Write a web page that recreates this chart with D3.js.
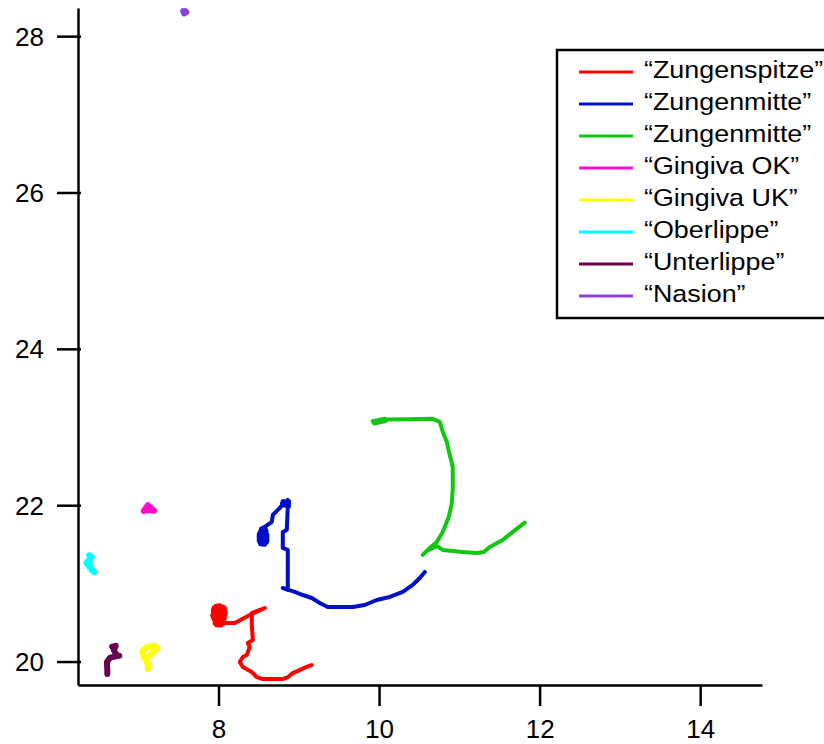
<!DOCTYPE html>
<html>
<head>
<meta charset="utf-8">
<script src="https://cdn.jsdelivr.net/npm/d3@7"></script>
<style>
  html, body { margin: 0; padding: 0; background: #fff; }
  svg { display: block; }
  text { font-family: "Liberation Sans", Arial, sans-serif; fill: #000; }
</style>
</head>
<body>
<svg id="chart" width="824" height="744"></svg>
<script>
// Articulator trajectories (x, y in cm)
const zungenspitze = [
  [9.16,19.955],[9.12,19.94],[9.06,19.915],[9.01,19.89],[8.925,19.853],[8.863,19.80],[8.80,19.776],[8.552,19.776],
  [8.477,19.80],[8.415,19.866],[8.303,19.93],[8.265,19.994],[8.303,20.058],[8.352,20.083],
  [8.39,20.186],[8.365,20.237],[8.428,20.275],[8.415,20.467],[8.415,20.62],[8.577,20.685],
  [8.39,20.595],[8.203,20.493],[8.079,20.493],
  [8.03,20.46],[7.97,20.465],[8.05,20.485],[7.95,20.49],[8.06,20.51],[7.95,20.515],
  [8.07,20.535],[7.94,20.54],[8.08,20.56],[7.93,20.565],[8.08,20.585],[7.92,20.59],
  [8.09,20.61],[7.93,20.615],[8.09,20.635],[7.93,20.64],[8.08,20.66],[7.93,20.665],
  [8.08,20.685],[7.94,20.69],[8.06,20.705],[7.96,20.71],[8.02,20.72]
];
const zungenmitte1 = [
  [8.58,21.495],[8.52,21.50],[8.60,21.52],[8.51,21.525],[8.61,21.545],[8.50,21.55],
  [8.61,21.57],[8.50,21.575],[8.61,21.595],[8.50,21.60],[8.61,21.62],[8.50,21.625],
  [8.60,21.645],[8.51,21.65],[8.60,21.67],[8.52,21.675],[8.59,21.695],[8.53,21.70],
  [8.577,21.722],[8.664,21.786],[8.677,21.876],[8.764,21.965],
  [8.79,22.0],[8.88,21.99],[8.79,22.025],[8.88,22.02],[8.80,22.05],[8.88,22.05],[8.863,22.068],
  [8.876,21.978],[8.863,21.978],[8.851,21.684],[8.801,21.658],[8.801,21.453],
  [8.863,21.428],[8.863,20.915],[8.801,20.941],[8.95,20.89],[9.05,20.851],[9.162,20.813],
  [9.262,20.749],[9.361,20.698],[9.511,20.698],[9.673,20.698],[9.822,20.723],[9.971,20.787],
  [10.133,20.826],[10.295,20.89],[10.42,20.98],[10.507,21.069],[10.57,21.146]
];
const zungenmitte2 = [
  [9.93,23.06],[10.06,23.09],[9.92,23.075],[10.07,23.105],[9.94,23.045],[10.08,23.075],
  [9.96,23.06],[10.05,23.09],
  [10.096,23.095],[10.345,23.1],
  [10.669,23.105],[10.756,23.067],[10.793,22.939],[10.843,22.811],[10.88,22.645],[10.918,22.491],
  [10.918,22.209],[10.905,22.017],[10.868,21.85],[10.793,21.658],[10.719,21.53],[10.631,21.453],
  [10.544,21.364],[10.594,21.415],[10.719,21.479],[10.793,21.428],[11.042,21.402],[11.217,21.389],
  [11.304,21.402],[11.379,21.466],[11.541,21.556],[11.666,21.658],[11.815,21.776]
];
const gingivaOK = [
  [7.07,21.925],[7.12,22.00],[7.2,21.93],[7.09,21.945],[7.16,21.96],[7.12,21.93]
];
const gingivaUK = [
  [7.24,20.16],[7.21,20.20],[7.12,20.19],[7.055,20.134],[7.065,20.07],[7.1,20.019],
  [7.12,19.95],[7.12,19.90],[7.13,19.95],[7.1,20.03],[7.19,20.12]
];
const oberlippe = [
  [6.39,21.36],[6.42,21.34],[6.355,21.261],[6.4,21.2],[6.455,21.14],[6.42,21.172],
  [6.39,21.274],[6.41,21.32]
];
const unterlippe = [
  [6.675,20.19],[6.72,20.20],[6.696,20.147],[6.735,20.07],[6.765,20.075],[6.65,20.05],
  [6.61,19.994],[6.615,19.891],[6.615,19.84]
];
const nasion = [
  [7.56,28.32],[7.6,28.305],[7.57,28.29],[7.59,28.32]
];

const seriesNames = ["\u201CZungenspitze\u201D", "\u201CZungenmitte\u201D", "\u201CZungenmitte\u201D",
  "\u201CGingiva OK\u201D", "\u201CGingiva UK\u201D", "\u201COberlippe\u201D", "\u201CUnterlippe\u201D", "\u201CNasion\u201D"];
const seriesData = [zungenspitze, zungenmitte1, zungenmitte2, gingivaOK, gingivaUK, oberlippe, unterlippe, nasion];
const seriesColors = ["#ff0000", "#0010c8", "#10c810", "#ff10c8", "#ffff00", "#00ffff", "#6a0050", "#9040e0"];
const seriesWidths = [4, 4, 4, 6, 6, 6, 6, 6];

const xTicks = [8, 10, 12, 14];
const yTicks = [20, 22, 24, 26, 28];

const svg = d3.select("#chart");

const x = d3.scaleLinear().domain([6.25, 14.77]).range([78, 762]);
const y = d3.scaleLinear().domain([19.70, 28.36]).range([685, 8]);

// Trajectories
const line = d3.line().x(d => x(d[0])).y(d => y(d[1]));
const traces = svg.append("g");
seriesData.forEach((s, i) => {
  traces.append("path")
    .attr("d", line(s))
    .attr("fill", "none")
    .attr("stroke", seriesColors[i])
    .attr("stroke-width", seriesWidths[i])
    .attr("stroke-linejoin", "round")
    .attr("stroke-linecap", "round");
});

// Axes
const xAxis = d3.axisBottom(x).tickValues(xTicks).tickSize(21).tickSizeOuter(0).tickFormat(d3.format("d"));
const yAxis = d3.axisLeft(y).tickValues(yTicks).tickSize(21).tickSizeOuter(0).tickFormat(d3.format("d"));

const gx = svg.append("g").attr("transform", "translate(0,685)").call(xAxis);
const gy = svg.append("g").attr("transform", "translate(78,0)").call(yAxis);

[gx, gy].forEach(g => {
  g.select(".domain").attr("stroke", "#000").attr("stroke-width", 2.5);
  g.selectAll(".tick line").attr("stroke", "#000").attr("stroke-width", 2.5);
  g.selectAll(".tick text")
    .style("font-family", "'Liberation Sans', Arial, sans-serif")
    .style("font-size", "26px")
    .attr("fill", "#000");
});
gx.selectAll(".tick text").attr("y", 53).attr("dy", 0);
gy.selectAll(".tick text").attr("x", -34).attr("dy", "0.35em");
gy.selectAll(".tick line").attr("x2", -21).attr("x1", 3);

// Legend
const legend = svg.append("g");
legend.append("rect")
  .attr("x", 557).attr("y", 50)
  .attr("width", 290).attr("height", 268)
  .attr("fill", "#fff").attr("stroke", "#000").attr("stroke-width", 2.5);

seriesNames.forEach((name, i) => {
  const ly = 72 + i * 32;
  legend.append("line")
    .attr("x1", 579).attr("x2", 633)
    .attr("y1", ly).attr("y2", ly)
    .attr("stroke", seriesColors[i]).attr("stroke-width", 3);
  legend.append("text")
    .attr("transform", `translate(644,${ly + 6}) scale(1.12,1)`)
    .style("font-size", "24px")
    .text(name);
});
</script>
</body>
</html>
